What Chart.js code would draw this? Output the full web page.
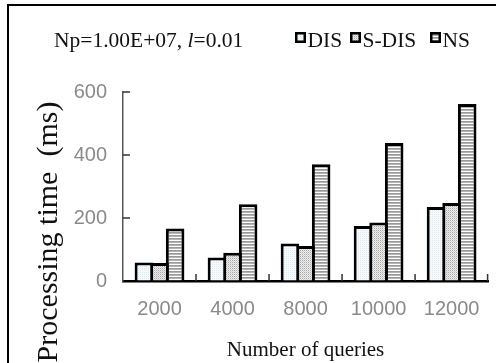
<!DOCTYPE html>
<html><head><meta charset="utf-8">
<script src="https://cdn.jsdelivr.net/npm/chart.js@4.4.1/dist/chart.umd.min.js"></script>
<style>html,body{margin:0;padding:0;background:#fff;overflow:hidden}#wrap{width:496px;height:363px;position:relative}</style>
</head><body><div id="wrap"><canvas id="c" width="496" height="363"></canvas></div>
<script>
const categories = ['2000', '4000', '8000', '10000', '12000'];
const seriesNames = ['DIS', 'S-DIS', 'NS'];
const disValues = [59, 75, 119, 175, 235];
const sdisValues = [57, 90, 111, 186, 248];
const nsValues = [167, 244, 371, 438, 562];
const yTickValues = [0, 200, 400, 600];
const xAxisTitle = 'Number of queries';
const yAxisTitle = 'Processing time  (ms)';
const titleParts = ['Np=1.00E+07, ', 'l', '=0.01'];

function makePattern(w, h, bg, dots) {
  const c = document.createElement('canvas');
  c.width = w; c.height = h;
  const g = c.getContext('2d');
  g.fillStyle = bg; g.fillRect(0, 0, w, h);
  dots.forEach(d => { g.fillStyle = d[2]; g.fillRect(d[0], d[1], 1, 1); });
  return g.createPattern(c, 'repeat');
}
const patDIS = makePattern(2, 2, '#f7fafd', [[0, 0, '#dde8f3']]);
const patSDIS = makePattern(2, 2, '#eeeeee', [[0, 0, '#a8a8a8'], [1, 1, '#d0d0d0']]);
const patNS = makePattern(1, 3, '#ffffff', [[0, 1, '#9a9a9a'], [0, 2, '#b4b4b4']]);
const patterns = [patDIS, patSDIS, patNS];

const overlay = {
  id: 'overlay',
  afterDraw(chart) {
    const ctx = chart.ctx;
    const xs = chart.scales.x, ys = chart.scales.y;
    const ca = chart.chartArea;
    ctx.save();
    ctx.strokeStyle = '#333';
    ctx.lineWidth = 1.5;
    const n = categories.length;
    for (let i = 0; i < n; i++) {
      const b = i < n - 1 ? (xs.getPixelForValue(i) + xs.getPixelForValue(i + 1)) / 2 : ca.right - 0.5;
      ctx.beginPath(); ctx.moveTo(b, ca.bottom); ctx.lineTo(b, ca.bottom - 7); ctx.stroke();
    }
    yTickValues.forEach(v => {
      if (v === 0) return;
      const y = ys.getPixelForValue(v);
      ctx.beginPath(); ctx.moveTo(ca.left, y); ctx.lineTo(ca.left + 7, y); ctx.stroke();
    });
    ctx.strokeStyle = '#000';
    ctx.lineWidth = 2;
    ctx.beginPath(); ctx.moveTo(8, 363); ctx.lineTo(8, 5); ctx.lineTo(496, 5); ctx.stroke();
    ctx.save();
    ctx.translate(57, 232);
    ctx.rotate(-Math.PI / 2);
    ctx.fillStyle = '#111';
    ctx.font = '30px "Liberation Serif"';
    ctx.textAlign = 'center';
    ctx.textBaseline = 'alphabetic';
    ctx.fillText(yAxisTitle, 0, 0);
    ctx.restore();
    ctx.fillStyle = '#111';
    ctx.textBaseline = 'alphabetic';
    ctx.textAlign = 'left';
    let x = 54;
    const base = 46.5;
    const fs = '21.5px "Liberation Serif"';
    ctx.font = fs;
    ctx.fillText(titleParts[0], x, base); x += ctx.measureText(titleParts[0]).width;
    ctx.font = 'italic ' + fs;
    ctx.fillText(titleParts[1], x, base); x += ctx.measureText(titleParts[1]).width;
    ctx.font = fs;
    ctx.fillText(titleParts[2], x, base);
    const boxX = [295, 350, 430];
    seriesNames.forEach((name, i) => {
      const bx = boxX[i], by = 32;
      ctx.fillStyle = patterns[i];
      ctx.fillRect(bx, by, 11, 11);
      ctx.strokeStyle = '#000';
      ctx.lineWidth = 2.5;
      ctx.strokeRect(bx + 1.25, by + 1.25, 8.5, 8.5);
      ctx.fillStyle = '#111';
      ctx.font = fs;
      ctx.fillText(name, bx + 12.5, base);
    });
    ctx.restore();
  }
};

const valuesList = [disValues, sdisValues, nsValues];
new Chart(document.getElementById('c'), {
  type: 'bar',
  data: {
    labels: categories,
    datasets: seriesNames.map((name, i) => ({
      label: name,
      data: valuesList[i],
      backgroundColor: patterns[i],
      borderColor: '#000',
      borderWidth: 3,
      borderSkipped: 'start',
      barPercentage: 1.19,
      categoryPercentage: 0.641
    }))
  },
  options: {
    responsive: false,
    animation: false,
    devicePixelRatio: 1,
    layout: { padding: { top: 92, right: 6, left: 0, bottom: 0 } },
    plugins: { legend: { display: false }, title: { display: false }, tooltip: { enabled: false } },
    scales: {
      x: {
        type: 'category',
        offset: true,
        grid: { display: true, drawOnChartArea: false, drawTicks: false },
        border: { display: true, color: '#000', width: 2.5 },
        ticks: { font: { family: '"Liberation Sans"', size: 20 }, color: '#8a8a8a', padding: 16, maxRotation: 0, autoSkip: false },
        title: { display: true, text: xAxisTitle, font: { family: '"Liberation Serif"', size: 21 }, color: '#111', padding: { top: 0, bottom: 0 } },
        afterFit(s) { s.height = 82; }
      },
      y: {
        min: 0, max: 600,
        afterBuildTicks(s) { s.ticks = yTickValues.map(v => ({ value: v })); },
        grid: { display: true, drawOnChartArea: false, drawTicks: false },
        border: { display: true, color: '#555', width: 1.5 },
        ticks: { font: { family: '"Liberation Sans"', size: 20 }, color: '#8a8a8a', padding: 16 },
        afterFit(s) { s.width = 123; }
      }
    }
  },
  plugins: [overlay]
});
</script>
</body></html>
